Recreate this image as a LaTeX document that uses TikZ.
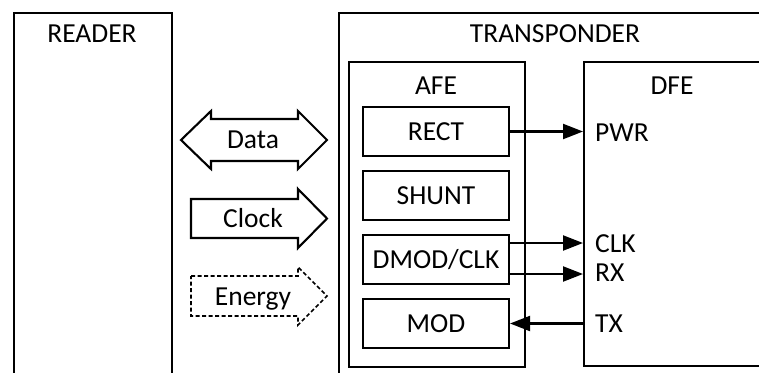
\documentclass[tikz,border=0pt]{standalone}
\usepackage{fontspec}
\setmainfont{Carlito}
\usetikzlibrary{arrows.meta}
\begin{document}
\begin{tikzpicture}[x=1pt,y=-1pt,
  every node/.style={font=\fontsize{27.5}{31}\selectfont},
  frame/.style={draw, line width=2.1pt, anchor=north west, inner sep=0pt},
  blk/.style={draw, line width=2.1pt, minimum width=146pt, minimum height=49pt, inner sep=0pt, text height=17.7pt, text depth=0pt},
  lbl/.style={anchor=base, inner sep=0pt},
  sig/.style={line width=2.2pt, -{Triangle[length=20pt,width=15pt]}},
  fat/.style={line width=2.1pt, line join=miter},
  fatdash/.style={line width=1.7pt, dash pattern=on 4pt off 2.5pt}
]
\useasboundingbox (0,0) rectangle (759,372);
\clip (0,0) rectangle (759,372);
% containers
\node[frame, minimum width=158pt, minimum height=400pt] (reader) at (13,11.5) {};
\node[frame, minimum width=480pt, minimum height=400pt] (trans) at (338,11.5) {};
\node[frame, minimum width=176pt, minimum height=305pt] (afe) at (348,61) {};
\node[frame, minimum width=220pt, minimum height=304pt] (dfe) at (583,61) {};
% titles
\node[lbl] (readerlbl) at (92,42) {READER};
\node[lbl] (translbl) at (555,42) {TRANSPONDER};
\node[lbl] (afelbl) at (436,94) {AFE};
\node[lbl] (dfelbl) at (672,94) {DFE};
% AFE blocks
\node[blk] (rect) at (436,131.5) {RECT};
\node[blk] (shunt) at (436,195.5) {SHUNT};
\node[blk] (dmod) at (436,259.5) {DMOD/CLK};
\node[blk] (mod) at (436,323.5) {MOD};
% DFE ports
\node[lbl, anchor=base west] (pwr) at (595,141) {PWR};
\node[lbl, anchor=base west] (clk) at (595,252) {CLK};
\node[lbl, anchor=base west] (rx) at (595,281.5) {RX};
\node[lbl, anchor=base west] (tx) at (595,332) {TX};
% signals
\draw[sig] (rect.east) -- (rect.east -| dfe.west);
\coordinate (clko) at ([yshift=16.5pt]dmod.east);
\coordinate (rxo) at ([yshift=-14.5pt]dmod.east);
\draw[sig] (clko) -- (clko -| dfe.west);
\draw[sig] (rxo) -- (rxo -| dfe.west);
\draw[sig] (mod.east -| dfe.west) -- (mod.east);
% block arrows
\draw[fat] (181,140) -- (211,111) -- (211,119) -- (298,119) -- (298,111) -- (327,140)
  -- (298,169) -- (298,161) -- (211,161) -- (211,169) -- cycle;
\node[lbl] (data) at (253,148.5) {Data};
\draw[fat] (191,199) -- (298,199) -- (298,189) -- (327,218.5) -- (298,248) -- (298,238) -- (191,238) -- cycle;
\node[lbl] (clock) at (253,227.5) {Clock};
\draw[fatdash] (191,276) -- (298,276) -- (298,267) -- (327,296) -- (298,325) -- (298,316) -- (191,316) -- cycle;
\node[lbl] (energy) at (253,305.5) {Energy};
\end{tikzpicture}
\end{document}
